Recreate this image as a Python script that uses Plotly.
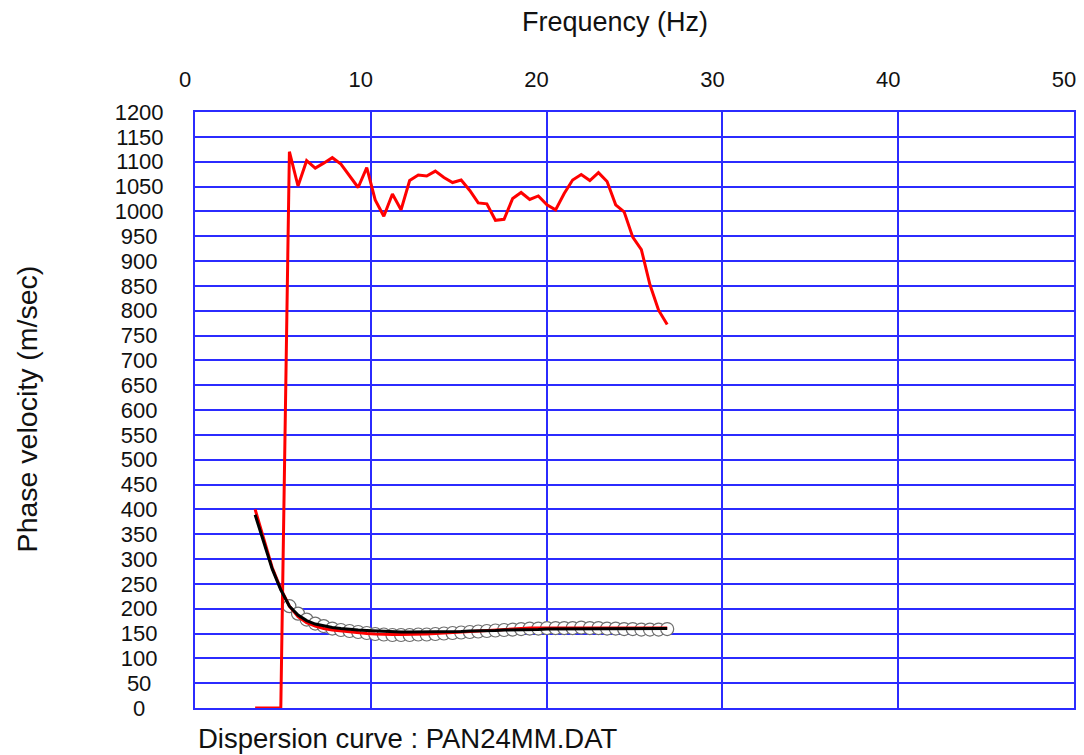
import plotly.graph_objects as go

# Frequency samples (Hz)
freq = [3.42, 3.91, 4.39, 4.88, 5.37, 5.86, 6.35, 6.84, 7.32, 7.81,
        8.30, 8.79, 9.28, 9.77, 10.25, 10.74, 11.23, 11.72, 12.21, 12.70,
        13.18, 13.67, 14.16, 14.65, 15.14, 15.63, 16.11, 16.60, 17.09, 17.58,
        18.07, 18.55, 19.04, 19.53, 20.02, 20.51, 21.00, 21.48, 21.97, 22.46,
        22.95, 23.44, 23.93, 24.41, 24.90, 25.39, 25.88, 26.37, 26.86]

# Higher-velocity picked curve (m/sec)
vel_high = [0, 0, 0, 0, 1120, 1051, 1102, 1087, 1097, 1108,
            1095, 1071, 1048, 1088, 1023, 990, 1035, 1003, 1062, 1073,
            1071, 1081, 1068, 1058, 1063, 1042, 1017, 1015, 982, 984,
            1026, 1038, 1024, 1031, 1013, 1003, 1036, 1063, 1074, 1062,
            1078, 1060, 1013, 999, 948, 923, 852, 801, 772]

# Fundamental-mode observed curve (m/sec)
vel_obs = [400, 340, 283, 240, 205, 184, 172, 165, 160, 157,
           155, 153, 151, 150, 149, 148, 148, 148, 148, 149,
           149, 150, 151, 152, 153, 154, 155, 157, 158, 159,
           160, 160, 161, 161, 161, 161, 161, 160, 160, 160,
           160, 160, 160, 160, 160, 160, 161, 161, 161]

# Theoretical (fitted) curve (m/sec)
vel_fit = [389, 335, 280, 238, 205, 187, 176, 169, 165, 162,
           160, 158, 157, 156, 155, 154, 154, 153, 153, 153,
           153, 153, 154, 154, 154, 155, 155, 156, 156, 157,
           157, 158, 158, 158, 159, 159, 159, 160, 160, 160,
           160, 160, 160, 160, 160, 160, 160, 160, 160]

# Dispersion picks shown as circles
freq_pick = freq[4:]
vel_pick = [205, 190, 178, 170, 165, 160, 157, 155, 153, 151,
            149, 148, 147, 147, 147, 148, 148, 149, 150, 151,
            152, 153, 154, 155, 156, 157, 158, 159, 160, 160,
            161, 161, 161, 161, 162, 161, 161, 160, 160, 159,
            159, 158, 158, 158, 159]

x_ticks = [0, 10, 20, 30, 40, 50]
y_ticks = list(range(0, 1201, 50))


def centred(v):
    # pad with digit-width spaces so labels sit centred in the column
    s = str(v)
    pad = {1: "\u2007\u2008", 2: "\u2007", 3: "\u2008", 4: ""}[len(s)]
    return s + pad


y_labels = [centred(v) for v in y_ticks]

GRID = "#2b2bff"
FONT = "Liberation Sans, Arial, sans-serif"
INK = "#111111"

fig = go.Figure()
fig.add_trace(go.Scatter(
    x=freq_pick, y=vel_pick, mode="markers",
    marker=dict(symbol="circle", size=13, color="white",
                line=dict(color="#6e6e6e", width=1.2)),
    showlegend=False, hoverinfo="skip"))
fig.add_trace(go.Scatter(
    x=freq, y=vel_high, mode="lines",
    line=dict(color="#ff0000", width=3), showlegend=False))
fig.add_trace(go.Scatter(
    x=freq, y=vel_obs, mode="lines",
    line=dict(color="#ff0000", width=3), showlegend=False))
fig.add_trace(go.Scatter(
    x=freq, y=vel_fit, mode="lines",
    line=dict(color="#000000", width=3), showlegend=False))

fig.update_layout(
    width=1084, height=755,
    margin=dict(l=195, r=8, t=112, b=47),
    paper_bgcolor="white", plot_bgcolor="white",
    font=dict(family=FONT, size=22, color=INK),
    xaxis=dict(
        side="top", range=[0, 50], tickvals=x_ticks,
        ticktext=[str(v) for v in x_ticks],
        showgrid=True, gridcolor=GRID, gridwidth=2,
        showline=True, linecolor=GRID, linewidth=2, mirror=True,
        zeroline=False, ticks="", ticklabelshift=-10,
        ticklabelstandoff=14,
        tickfont=dict(size=22, family=FONT, color=INK)),
    yaxis=dict(
        range=[0, 1200], tickvals=y_ticks, ticktext=y_labels,
        showgrid=True, gridcolor=GRID, gridwidth=2,
        showline=True, linecolor=GRID, linewidth=2, mirror=True,
        zeroline=False, ticks="", ticklabelstandoff=25,
        tickfont=dict(size=22, family=FONT, color=INK)),
    annotations=[
        dict(text="Frequency (Hz)", xref="paper", yref="paper",
             x=(616 - 195) / 881, y=(708 - 22) / 596,
             xanchor="center", yanchor="middle", showarrow=False,
             font=dict(size=27, family=FONT, color=INK)),
        dict(text="Phase velocity (m/sec)", xref="paper", yref="paper",
             x=(27 - 195) / 881, y=(708 - 409) / 596, textangle=-90,
             xanchor="center", yanchor="middle", showarrow=False,
             font=dict(size=28.5, family=FONT, color=INK)),
        dict(text="Dispersion curve : PAN24MM.DAT", xref="paper",
             yref="paper", x=(196 - 195) / 881, y=(708 - 738) / 596,
             xanchor="left", yanchor="middle", showarrow=False,
             font=dict(size=27.5, family=FONT, color=INK)),
    ],
)

fig.write_html("out.html")
